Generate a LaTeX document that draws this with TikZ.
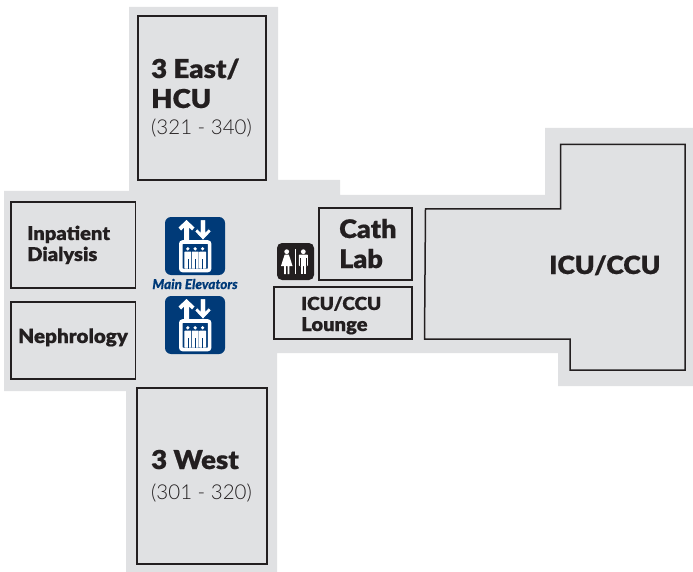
\documentclass[tikz,border=0pt]{standalone}
\usepackage{fontspec}
\setmainfont{Lato}
\newfontfamily\lightf{Lato Light}
\newfontfamily\heavyf{Lato Black}[FakeStretch=1.06,FakeBold=0.6]
\newfontfamily\heavyit{Lato Black Italic}[FakeBold=0.3]
\definecolor{floorgray}{HTML}{E0E1E3}
\definecolor{roomline}{HTML}{231F20}
\definecolor{elevblue}{HTML}{003A78}
\tikzset{
  room/.style={draw=roomline,line width=1.5pt,fill=floorgray,line join=miter},
  label/.style={anchor=base west,inner sep=0pt,text=roomline},
  nums/.style={anchor=base west,inner sep=0pt,text=roomline,font=\lightf\fontsize{20.5}{21}\selectfont},
  pics/elev/.style={code={
    \fill[elevblue,rounded corners=6pt] (0,0) rectangle (60,58);
    \fill[white] (21.5,3) -- (29.5,10.5) -- (27,13.5) -- (24,10.5) -- (24,23) -- (19,23) -- (19,10.5) -- (16,13.5) -- (13.5,10.5) -- cycle;
    \filldraw[fill=white,draw=elevblue,line width=.8pt] (38,23.4) -- (46.4,14.5) -- (43.8,11.4) -- (40.7,14.5) -- (40.7,2.6) -- (35.3,2.6) -- (35.3,14.5) -- (32.2,11.4) -- (29.6,14.5) -- cycle;
    \draw[white,line width=3.6pt,rounded corners=2pt] (15.8,25) rectangle (44.6,53.5);
    \foreach \px in {22.8,30.2,37.6}{
      \fill[white] (\px,31.8) circle (1.8pt);
      \fill[white,rounded corners=.6pt] (\px-3.4,34.5) rectangle (\px+3.4,51.5);
      \draw[elevblue,line width=.6pt] (\px,42) -- (\px,51.5);
    }
  }},
  pics/rest/.style={code={
    \fill[roomline,rounded corners=5pt] (0,0) rectangle (37,37);
    \fill[white] (9.7,8.7) circle (2.4pt);
    \fill[white] (7.7,11.5) -- (11.7,11.5) -- (13,15) -- (15.5,23) -- (12.3,23) -- (12.3,31) -- (10.5,31) -- (10.5,23) -- (8.9,23) -- (8.9,31) -- (7.1,31) -- (7.1,23) -- (4,23) -- (6.5,15) -- cycle;
    \fill[white] (17.6,6) rectangle (19.2,31);
    \fill[white] (26.3,8.7) circle (2.4pt);
    \fill[white,rounded corners=.8pt] (21.8,11.5) rectangle (30.8,23);
    \fill[white] (23.6,20) rectangle (26,31);
    \fill[white] (26.6,20) rectangle (29,31);
    \draw[roomline,line width=.5pt] (23.5,15) -- (23.5,23) (29.1,15) -- (29.1,23);
  }}
}
\begin{document}
\begin{tikzpicture}[x=1pt,y=-1pt]
\useasboundingbox (0,0) rectangle (693,572);
% floor plate
\fill[floorgray] (129,7) -- (278,7) -- (278,180) -- (340,180) -- (340,195) -- (545,195) -- (545,128) -- (693,128) -- (693,386) -- (558,386) -- (558,353) -- (277,353) -- (277,572) -- (126,572) -- (126,391) -- (4,391) -- (4,191) -- (129,191) -- cycle;
% rooms
\draw[room] (138,16) rectangle (266,180);
\draw[room] (137,388) rectangle (267,564);
\draw[room] (11,202) rectangle (135.5,288);
\draw[room] (11,302) rectangle (135.5,379);
\draw[room] (319,208) rectangle (412,280);
\draw[room] (274,287) rectangle (412,339);
\draw[room] (425.5,209) -- (560.5,209) -- (560.5,144.5) -- (685,144.5) -- (685,370) -- (570,370) -- (570,339) -- (424.5,339) -- cycle;
% labels
\node[label,font=\heavyf\fontsize{26}{26}\selectfont] (east) at (151,78) {3 East/};
\node[label,font=\heavyf\fontsize{26}{26}\selectfont] (hcu) at (151,108) {HCU};
\node[nums] (eastn) at (151,135) {(321 - 340)};
\node[label,font=\heavyf\fontsize{26}{26}\selectfont] (west) at (151,469) {3 West};
\node[nums] (westn) at (151,499) {(301 - 320)};
\node[label,font=\heavyf\fontsize{19}{18}\selectfont] (inp) at (27,240) {Inpatient};
\node[label,font=\heavyf\fontsize{19}{18}\selectfont] (dia) at (27,261) {Dialysis};
\node[label,font=\heavyf\fontsize{19.5}{18}\selectfont] (nep) at (18,343) {Nephrology};
\node[label,font=\heavyf\fontsize{25.5}{26}\selectfont] (cath) at (339,238) {Cath};
\node[label,font=\heavyf\fontsize{25.5}{26}\selectfont] (lab) at (339,268) {Lab};
\node[label,font=\heavyf\fontsize{18}{18}\selectfont] (lng1) at (301,310) {ICU/CCU};
\node[label,font=\heavyf\fontsize{19}{18}\selectfont] (lng2) at (301,331) {Lounge};
\node[label,font=\heavyf\fontsize{25}{25}\selectfont] (icu) at (549,274) {ICU/CCU};
% icons
\pic at (165,217) {elev};
\pic at (165,296) {elev};
\pic at (277,243) {rest};
\node[anchor=base,inner sep=0pt,text=elevblue,font=\heavyit\fontsize{13.5}{14}\selectfont] (elevlabel) at (195,289) {Main Elevators};
\end{tikzpicture}
\end{document}
